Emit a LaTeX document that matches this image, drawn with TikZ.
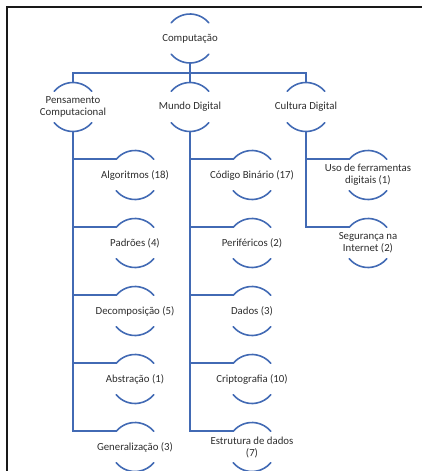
\documentclass[tikz,border=0pt]{standalone}
\usepackage{fontspec}
\setmainfont{Carlito}
\usetikzlibrary{calc}
\definecolor{linkblue}{RGB}{66,106,180}
\definecolor{txtgray}{RGB}{45,45,45}
\definecolor{framegray}{RGB}{25,25,25}
\newcommand{\Rad}{24.5pt}
\tikzset{
  x=1pt, y=1pt,
  lbl/.style={align=center, inner sep=0pt, text=txtgray, font=\fontsize{10.8}{12}\selectfont},
  conn/.style={draw=linkblue, line width=1.6pt},
  halfarc/.style={draw=linkblue, line width=1.6pt, line cap=round},
  frameline/.style={draw=framegray, line width=2pt}
}
\newcommand{\arcpair}[1]{%
  \draw[halfarc] ($(#1.center)+(140:\Rad)$) arc[start angle=140, end angle=40, radius=\Rad];
  \draw[halfarc] ($(#1.center)+(220:\Rad)$) arc[start angle=220, end angle=320, radius=\Rad];
}
\begin{document}
\begin{tikzpicture}
\useasboundingbox (0,0) rectangle (422,-471);
% frame
\coordinate (ftl) at (7,-7);
\coordinate (ftr) at (422,-7);
\coordinate (fbl) at (7,-471);
\draw[frameline] (ftr) -- (ftl) -- (fbl);

% nodes
\node[lbl] (comp) at (190,-38.5) {Computação};
\node[lbl] (pc) at (73,-107) {Pensamento\\Computacional};
\node[lbl] (md) at (190,-107) {Mundo Digital};
\node[lbl] (cd) at (306,-107) {Cultura Digital};

\node[lbl] (alg) at (135,-175) {Algoritmos (18)};
\node[lbl] (pad) at (135,-243) {Padrões (4)};
\node[lbl] (dec) at (135,-311) {Decomposição (5)};
\node[lbl] (abs) at (135,-379) {Abstração (1)};
\node[lbl] (gen) at (135,-447) {Generalização (3)};

\node[lbl] (cod) at (252,-175) {Código Binário (17)};
\node[lbl] (per) at (252,-243) {Periféricos (2)};
\node[lbl] (dad) at (252,-311) {Dados (3)};
\node[lbl] (cri) at (252,-379) {Criptografia (10)};
\node[lbl] (est) at (252,-447) {Estrutura de dados\\(7)};

\node[lbl] (uso) at (368,-175) {Uso de ferramentas\\digitais (1)};
\node[lbl] (seg) at (368,-243) {Segurança na\\Internet (2)};

% arcs
\foreach \n in {comp,pc,md,cd,alg,pad,dec,abs,gen,cod,per,dad,cri,est,uso,seg}{\arcpair{\n}}

% top-level connectors
\coordinate (hub) at ($(comp.center)+(0,-34.5)$);
\draw[conn] ($(comp.center)+(270:\Rad)$) -- (hub);
\draw[conn] (hub) -| ($(pc.center)+(90:\Rad)$);
\draw[conn] (hub) -| ($(cd.center)+(90:\Rad)$);
\draw[conn] (hub) -- ($(md.center)+(90:\Rad)$);

% child connectors
\foreach \p/\c in {pc/alg,pc/pad,pc/dec,pc/abs,pc/gen,md/cod,md/per,md/dad,md/cri,md/est,cd/uso,cd/seg}{
  \draw[conn] ($(\p.center)+(270:\Rad)$) |- ($(\c.center)+(140:\Rad)$);
}
\end{tikzpicture}
\end{document}
